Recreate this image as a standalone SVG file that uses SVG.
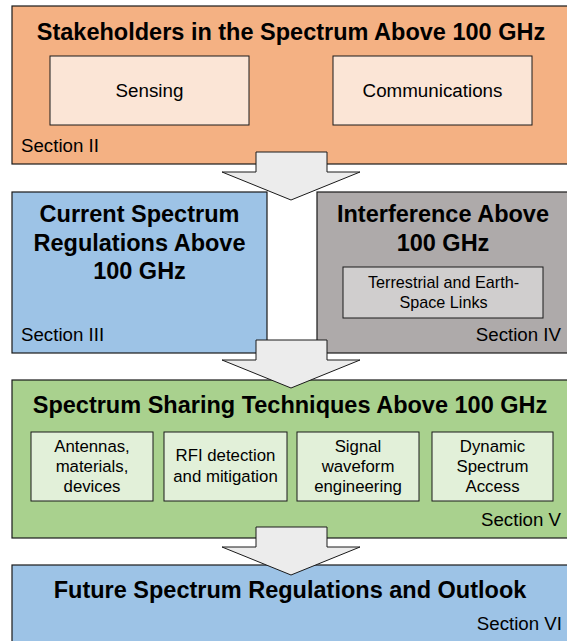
<svg xmlns="http://www.w3.org/2000/svg" width="567" height="641" viewBox="0 0 567 641">
<style>
text{font-family:"Liberation Sans",Arial,Helvetica,sans-serif;fill:#000}
.box{stroke:#1a1a1a;stroke-width:1.2}
.inner{stroke:#1a1a1a;stroke-width:1}
.title{font-size:23.5px;font-weight:bold;text-anchor:middle}
.lab{font-size:18.8px;text-anchor:middle}
.sm{font-size:16.8px;text-anchor:middle}
.sec{font-size:18.7px}
.arrow{fill:#ececec;stroke:#1a1a1a;stroke-width:1}
</style>
<g id="stakeholders">
<rect class="box" x="12" y="6" width="556" height="158" fill="#F4B183"/>
<text class="title" x="291" y="40">Stakeholders in the Spectrum Above 100 GHz</text>
<g id="sensing"><rect class="inner" x="50" y="56" width="199" height="69" fill="#FBE5D6"/><text class="lab" x="149.5" y="97">Sensing</text></g>
<g id="communications"><rect class="inner" x="333" y="56" width="199" height="69" fill="#FBE5D6"/><text class="lab" x="432.5" y="97">Communications</text></g>
<text class="sec" x="21" y="152">Section II</text>
</g>
<g id="current-regulations">
<rect class="box" x="12" y="192" width="255" height="161" fill="#9DC3E6"/>
<text class="title" x="139.5" y="222">Current Spectrum</text>
<text class="title" x="139.5" y="251">Regulations Above</text>
<text class="title" x="139.5" y="279">100 GHz</text>
<text class="sec" x="21" y="341">Section III</text>
</g>
<g id="interference">
<rect class="box" x="317" y="192" width="251" height="161" fill="#AEAAAA"/>
<text class="title" x="443" y="222">Interference Above</text>
<text class="title" x="443" y="251">100 GHz</text>
<g id="terrestrial"><rect class="inner" x="343" y="267" width="200" height="51" fill="#D0CECE"/>
<text class="sm" x="443.5" y="288" style="font-size:16.2px">Terrestrial and Earth-</text>
<text class="sm" x="443.5" y="308" style="font-size:16.2px">Space Links</text></g>
<text class="sec" x="561" y="341" text-anchor="end">Section IV</text>
</g>
<g id="sharing">
<rect class="box" x="12" y="380" width="556" height="158" fill="#A9D18E"/>
<text class="title" x="290" y="413">Spectrum Sharing Techniques Above 100 GHz</text>
<g id="antennas"><rect class="inner" x="31" y="432" width="122" height="69" fill="#E2F0D9"/>
<text class="sm" x="92" y="452">Antennas,</text><text class="sm" x="92" y="472">materials,</text><text class="sm" x="92" y="492">devices</text></g>
<g id="rfi"><rect class="inner" x="164" y="432" width="123" height="69" fill="#E2F0D9"/>
<text class="sm" x="225.5" y="461">RFI detection</text><text class="sm" x="225.5" y="482">and mitigation</text></g>
<g id="waveform"><rect class="inner" x="297" y="432" width="122" height="69" fill="#E2F0D9"/>
<text class="sm" x="358" y="452">Signal</text><text class="sm" x="358" y="472">waveform</text><text class="sm" x="358" y="492">engineering</text></g>
<g id="dsa"><rect class="inner" x="432" y="432" width="121" height="69" fill="#E2F0D9"/>
<text class="sm" x="492.5" y="452">Dynamic</text><text class="sm" x="492.5" y="472">Spectrum</text><text class="sm" x="492.5" y="492">Access</text></g>
<text class="sec" x="561" y="526" text-anchor="end">Section V</text>
</g>
<g id="future">
<rect class="box" x="12" y="565" width="556" height="80" fill="#9DC3E6"/>
<text class="title" x="290" y="598">Future Spectrum Regulations and Outlook</text>
<text class="sec" x="562" y="630" text-anchor="end">Section VI</text>
</g>
<g id="connectors">
<polygon class="arrow" points="256,152 327,152 327,172 360,172 291,200 222,172 256,172"/>
<polygon class="arrow" points="256,340 327,340 327,360 360,360 291,388 222,360 256,360"/>
<polygon class="arrow" points="256,527 327,527 327,547 360,547 291,575 222,547 256,547"/>
</g>
</svg>
